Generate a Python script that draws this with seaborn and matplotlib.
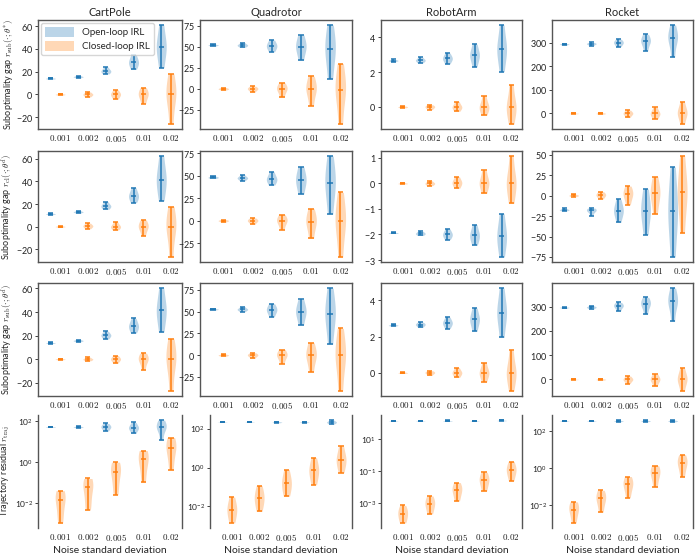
import matplotlib
matplotlib.use("Agg")
import matplotlib.pyplot as plt
from matplotlib.patches import Patch
from matplotlib.ticker import NullLocator
import numpy as np
import pandas as pd
import seaborn as sns

# --- data: each violin is [min, q1, median, q3, max] ---
systems = ["CartPole", "Quadrotor", "RobotArm", "Rocket"]
noise_labels = ["0.001", "0.002", "0.005", "0.01", "0.02"]
methods = ["Open-loop IRL", "Closed-loop IRL"]

# row 1: suboptimality gap (theta*)
cartpole_star_open = [[13.5, 13.8, 14.0, 14.2, 14.5], [14.6, 15.2, 15.5, 15.8, 16.4],
                      [18.0, 19.6, 20.6, 21.6, 24.0], [22.0, 26.0, 28.2, 30.5, 35.0],
                      [23.5, 36.0, 42.0, 47.5, 61.0]]
cartpole_star_closed = [[-0.6, -0.2, 0.0, 0.2, 0.6], [-2.2, -0.7, 0.0, 0.7, 2.2],
                        [-4.2, -1.3, 0.0, 1.3, 4.0], [-8.0, -2.5, 0.0, 2.2, 6.0],
                        [-26.0, -6.5, 0.0, 6.0, 18.0]]
quadrotor_star_open = [[51.0, 51.7, 52.0, 52.3, 53.0], [49.5, 51.2, 52.0, 52.8, 55.0],
                       [44.0, 48.5, 51.0, 53.5, 58.0], [34.0, 45.0, 50.0, 55.0, 64.0],
                       [12.0, 36.0, 47.0, 58.0, 76.0]]
quadrotor_star_closed = [[-1.5, -0.5, 0.0, 0.5, 1.5], [-4.0, -1.2, 0.0, 1.0, 3.0],
                         [-10.0, -2.8, 0.0, 2.5, 7.0], [-20.0, -5.5, 0.0, 5.0, 15.0],
                         [-42.0, -11.0, -1.0, 9.0, 30.0]]
robotarm_star_open = [[2.60, 2.64, 2.66, 2.68, 2.72], [2.53, 2.63, 2.68, 2.73, 2.85],
                      [2.47, 2.68, 2.78, 2.88, 3.09], [2.30, 2.77, 2.96, 3.15, 3.60],
                      [2.02, 2.95, 3.31, 3.70, 4.70]]
robotarm_star_closed = [[-0.05, -0.02, 0.0, 0.02, 0.05], [-0.15, -0.05, 0.0, 0.05, 0.12],
                        [-0.25, -0.08, 0.0, 0.09, 0.31], [-0.47, -0.14, 0.0, 0.16, 0.63],
                        [-0.98, -0.28, 0.0, 0.32, 1.28]]
rocket_star_open = [[290, 293, 294, 295, 297], [288, 294, 296, 298, 302],
                    [284, 295, 301, 306, 315], [266, 296, 307, 317, 336],
                    [240, 303, 321, 338, 376]]
rocket_star_closed = [[-1.5, -0.5, 0.0, 0.5, 1.5], [-3.0, -1.0, 0.0, 1.0, 3.0],
                      [-17.0, -4.5, 0.0, 4.0, 14.0], [-22.0, -6.5, 0.0, 6.5, 26.0],
                      [-45.0, -10.0, 3.0, 14.0, 48.0]]

# row 2: suboptimality gap (closed-loop cost)
cartpole_cl_open = [[10.5, 11.0, 11.2, 11.4, 11.8], [12.0, 12.7, 13.0, 13.3, 14.0],
                    [15.3, 17.3, 18.2, 19.4, 22.0], [21.2, 25.0, 27.3, 29.5, 34.4],
                    [22.9, 35.5, 41.7, 48.0, 62.6]]
cartpole_cl_closed = [[-0.6, -0.2, 0.0, 0.2, 0.6], [-2.0, -0.3, 0.5, 1.3, 3.0],
                      [-3.0, -1.0, 0.0, 1.2, 4.1], [-8.2, -2.3, 0.0, 2.0, 5.9],
                      [-27.0, -6.5, 0.0, 6.0, 17.6]]
quadrotor_cl_open = [[47.0, 47.8, 48.2, 48.7, 49.5], [44.5, 46.8, 47.6, 48.5, 51.0],
                     [39.7, 44.0, 46.3, 48.8, 54.4], [29.8, 40.0, 45.2, 50.5, 59.9],
                     [7.4, 31.0, 42.3, 53.0, 72.0]]
quadrotor_cl_closed = [[-1.5, -0.5, 0.0, 0.4, 1.2], [-4.0, -1.2, 0.0, 1.0, 3.0],
                       [-9.9, -2.8, 0.0, 2.3, 6.6], [-19.8, -6.5, -1.0, 4.0, 13.2],
                       [-40.4, -11.0, 0.0, 10.0, 31.6]]
robotarm_cl_open = [[-1.96, -1.95, -1.94, -1.93, -1.92], [-2.04, -1.99, -1.96, -1.93, -1.87],
                    [-2.20, -2.07, -2.00, -1.93, -1.78], [-2.42, -2.17, -2.04, -1.91, -1.62],
                    [-2.88, -2.35, -2.07, -1.80, -1.19]]
robotarm_cl_closed = [[-0.02, -0.01, 0.0, 0.01, 0.03], [-0.09, -0.03, 0.0, 0.03, 0.10],
                      [-0.19, -0.05, 0.03, 0.10, 0.26], [-0.39, -0.10, 0.03, 0.15, 0.52],
                      [-0.78, -0.20, 0.03, 0.28, 1.07]]
rocket_cl_open = [[-18.5, -17.7, -17.3, -16.7, -15.3], [-24.6, -19.5, -18.1, -16.8, -15.3],
                  [-32.7, -22.5, -18.5, -14.0, -4.4], [-47.6, -27.5, -18.5, -9.0, 8.1],
                  [-75.0, -36.0, -19.0, -2.0, 35.0]]
rocket_cl_closed = [[-1.2, -0.3, 0.2, 0.7, 1.6], [-4.0, -0.8, 0.8, 2.2, 4.8],
                    [-11.3, -2.5, 2.0, 5.5, 11.7], [-22.6, -5.0, 2.8, 9.0, 23.0],
                    [-45.6, -9.0, 4.0, 16.0, 48.4]]

# row 3: suboptimality gap (theta^d)
cartpole_d_open = [[13.3, 13.6, 13.7, 13.9, 14.2], [14.8, 15.4, 15.7, 16.0, 16.6],
                   [17.1, 19.3, 20.3, 21.4, 23.7], [22.3, 26.0, 28.0, 30.2, 34.6],
                   [23.1, 35.5, 41.4, 47.0, 60.3]]
cartpole_d_closed = [[-0.5, -0.2, 0.0, 0.2, 0.5], [-1.4, -0.4, 0.0, 0.5, 1.7],
                     [-3.4, -1.0, 0.0, 1.0, 3.1], [-9.1, -2.5, 0.0, 1.8, 5.1],
                     [-26.9, -6.5, 0.0, 6.0, 17.1]]
quadrotor_d_open = [[52.0, 52.5, 52.7, 53.0, 53.5], [50.0, 52.0, 52.7, 53.5, 55.8],
                    [44.0, 49.5, 52.0, 54.5, 59.0], [34.6, 45.5, 50.0, 54.5, 64.2],
                    [12.7, 37.0, 47.3, 57.5, 77.0]]
quadrotor_d_closed = [[-1.2, -0.4, 0.0, 0.4, 1.2], [-3.8, -1.0, 0.0, 0.9, 2.7],
                      [-9.6, -2.7, 0.0, 2.2, 6.5], [-19.2, -5.5, 0.0, 4.5, 14.2],
                      [-41.0, -11.0, 0.0, 9.5, 30.8]]
robotarm_d_open = [[2.58, 2.61, 2.62, 2.64, 2.68], [2.51, 2.61, 2.66, 2.71, 2.79],
                   [2.44, 2.65, 2.75, 2.85, 3.07], [2.29, 2.75, 2.94, 3.13, 3.57],
                   [1.95, 2.95, 3.31, 3.70, 4.67]]
robotarm_d_closed = [[-0.04, -0.01, 0.0, 0.01, 0.04], [-0.15, -0.04, 0.0, 0.04, 0.11],
                     [-0.26, -0.08, 0.0, 0.08, 0.28], [-0.50, -0.14, 0.0, 0.14, 0.56],
                     [-1.00, -0.28, 0.0, 0.30, 1.23]]
rocket_d_open = [[293, 295, 296, 297, 298], [289, 295, 297, 299, 303],
                 [282, 297, 303, 308, 317], [268, 300, 311, 321, 338],
                 [240, 303, 321, 338, 376]]
rocket_d_closed = [[-1.0, -0.3, 0.0, 0.3, 1.0], [-3.0, -1.0, 0.0, 1.0, 3.0],
                   [-17.0, -4.5, 0.0, 4.0, 14.0], [-28.0, -7.0, 0.0, 6.0, 22.0],
                   [-47.0, -11.0, 2.0, 13.0, 46.0]]

# row 4: trajectory residual (log scale)
cartpole_res_open = [[50, 51, 52, 53, 54], [48, 50.5, 52, 53.5, 56],
                     [33, 45, 52, 60, 77], [25, 40, 47, 56, 86],
                     [11.6, 38, 52, 66, 112]]
cartpole_res_closed = [[0.0011, 0.004, 0.014, 0.022, 0.041], [0.0046, 0.015, 0.059, 0.085, 0.16],
                       [0.026, 0.1, 0.35, 0.5, 1.0], [0.105, 0.45, 1.35, 2.0, 3.7],
                       [0.42, 1.8, 5.0, 7.5, 15.8]]
quadrotor_res_open = [[212, 216, 218, 220, 224], [212, 216, 218, 220, 224],
                      [205, 213, 218, 223, 232], [208, 214, 218, 222, 228],
                      [175, 205, 220, 236, 280]]
quadrotor_res_closed = [[0.0014, 0.0035, 0.0068, 0.011, 0.030], [0.0055, 0.014, 0.027, 0.045, 0.117],
                        [0.033, 0.08, 0.16, 0.27, 0.79], [0.13, 0.35, 0.72, 1.1, 3.2],
                        [0.55, 1.4, 2.6, 4.0, 12.6]]
robotarm_res_open = [[140, 143, 145, 147, 150], [140, 143, 145, 147, 150],
                     [138, 142, 145, 148, 152], [140, 143, 145, 147, 150],
                     [145, 149, 152, 155, 160]]
robotarm_res_closed = [[6e-5, 0.00012, 0.00023, 0.00035, 0.00074], [0.00022, 0.0005, 0.00095, 0.0014, 0.0029],
                       [0.0014, 0.0035, 0.0069, 0.01, 0.02], [0.006, 0.015, 0.028, 0.042, 0.087],
                       [0.026, 0.065, 0.12, 0.18, 0.41]]
rocket_res_open = [[335, 345, 350, 355, 365], [335, 345, 350, 355, 365],
                   [320, 340, 348, 356, 375], [320, 340, 350, 360, 380],
                   [315, 338, 352, 365, 390]]
rocket_res_closed = [[0.0011, 0.003, 0.0057, 0.009, 0.015], [0.0042, 0.012, 0.023, 0.034, 0.063],
                     [0.025, 0.07, 0.13, 0.19, 0.35], [0.095, 0.28, 0.53, 0.8, 1.35],
                     [0.35, 1.0, 1.9, 2.8, 5.3]]

row_labels = [
    r"Suboptimality gap $r_{\rm sub}(\cdot;\theta^{\ast})$",
    r"Suboptimality gap $r_{\rm cl}(\cdot;\theta^{d})$",
    r"Suboptimality gap $r_{\rm sub}(\cdot;\theta^{d})$",
    r"Trajectory residual $r_{\rm traj}$",
]

grid = [
    [(cartpole_star_open, cartpole_star_closed), (quadrotor_star_open, quadrotor_star_closed),
     (robotarm_star_open, robotarm_star_closed), (rocket_star_open, rocket_star_closed)],
    [(cartpole_cl_open, cartpole_cl_closed), (quadrotor_cl_open, quadrotor_cl_closed),
     (robotarm_cl_open, robotarm_cl_closed), (rocket_cl_open, rocket_cl_closed)],
    [(cartpole_d_open, cartpole_d_closed), (quadrotor_d_open, quadrotor_d_closed),
     (robotarm_d_open, robotarm_d_closed), (rocket_d_open, rocket_d_closed)],
    [(cartpole_res_open, cartpole_res_closed), (quadrotor_res_open, quadrotor_res_closed),
     (robotarm_res_open, robotarm_res_closed), (rocket_res_open, rocket_res_closed)],
]

yticks = [
    [[-20, 0, 20, 40, 60], [-25, 0, 25, 50, 75], [0, 2, 4], [0, 100, 200, 300]],
    [[-20, 0, 20, 40, 60], [-25, 0, 25, 50, 75], [-3, -2, -1, 0, 1], [-75, -50, -25, 0, 25, 50]],
    [[-20, 0, 20, 40, 60], [-25, 0, 25, 50, 75], [0, 2, 4], [0, 100, 200, 300]],
    [[1e-2, 1e0, 1e2], [1e-2, 1e0, 1e2], [1e-3, 1e-1, 1e1], [1e-2, 1e0, 1e2]],
]

# --- style ---
sns.set_theme(style="white")
plt.rcParams["font.family"] = ["Lato", "DejaVu Sans"]
plt.rcParams["mathtext.fontset"] = "cm"
plt.rcParams["axes.formatter.use_mathtext"] = True

colors = ["#1f77b4", "#ff7f0e"]
offsets = [-0.35, 0.0]
cap = 0.095

W, H = 700, 559
fig = plt.figure(figsize=(W / 100, H / 100), dpi=100)

col_px = [(38, 182), (200, 352), (381, 522), (552, 693)]
row_px = [(20, 129), (151, 262), (283, 396), (415, 528)]

for r in range(4):
    for c in range(4):
        x0, x1 = col_px[c]
        if r == 3 and c == 1:
            x0 = 210
        y0, y1 = row_px[r]
        ax = fig.add_axes([x0 / W, 1 - y1 / H, (x1 - x0) / W, (y1 - y0) / H])
        is_log = r == 3

        for m in range(2):
            vals = np.array(grid[r][c][m], dtype=float)
            pos = np.arange(len(noise_labels)) + offsets[m]
            df = pd.DataFrame({
                "pos": np.repeat(pos, vals.shape[1]),
                "value": vals.ravel(),
            })
            sns.violinplot(data=df, x="pos", y="value", native_scale=True, ax=ax,
                           color=colors[m], saturation=1, inner=None, cut=0,
                           density_norm="width", width=0.36, linewidth=0,
                           alpha=0.3, bw_adjust=0.9,
                           log_scale=(False, True) if is_log else None)
            lo, med, hi = vals.min(axis=1), np.median(vals, axis=1), vals.max(axis=1)
            ax.vlines(pos, lo, hi, color=colors[m], lw=1.1)
            for yy in (lo, med, hi):
                ax.hlines(yy, pos - cap, pos + cap, color=colors[m], lw=1.1)

        ax.set_xlim(-0.8, 4.4)
        ax.set_xticks(range(len(noise_labels)))
        ax.set_xticklabels([f"${s}$" for s in noise_labels])
        ax.set_xlabel("Noise standard deviation" if r == 3 else "", fontsize=7.5, labelpad=2)
        ax.set_yticks(yticks[r][c])
        if is_log:
            ax.yaxis.set_minor_locator(NullLocator())
        if c == 0:
            ax.set_ylabel(row_labels[r], fontsize=6.5)
            ax.yaxis.set_label_coords(-(x0 - (12 if is_log else 15)) / (x1 - x0), 0.5)
        else:
            ax.set_ylabel("")
        ax.tick_params(axis="x", labelsize=6.5, length=0, pad=3, colors="#222222")
        ax.tick_params(axis="y", labelsize=6 if is_log else 6.5, length=2, width=0.6,
                       pad=1.5, colors="#222222", left=True)
        for name, sp in ax.spines.items():
            sp.set_color("#555555")
            sp.set_linewidth(1.0)
        if is_log:
            ax.spines["top"].set_visible(False)
            ax.spines["bottom"].set_visible(False)
        if r == 0:
            ax.set_title(systems[c], fontsize=8, pad=3)

        if r == 0 and c == 0:
            handles = [Patch(facecolor=colors[k], alpha=0.3, edgecolor="none") for k in range(2)]
            ax.legend(handles, methods, loc="upper left", fontsize=7, frameon=True,
                      handlelength=3.0, handleheight=1.2, borderpad=0.4, labelspacing=0.4,
                      borderaxespad=0.3, framealpha=0.8)

fig.savefig("out.png", dpi=100)
